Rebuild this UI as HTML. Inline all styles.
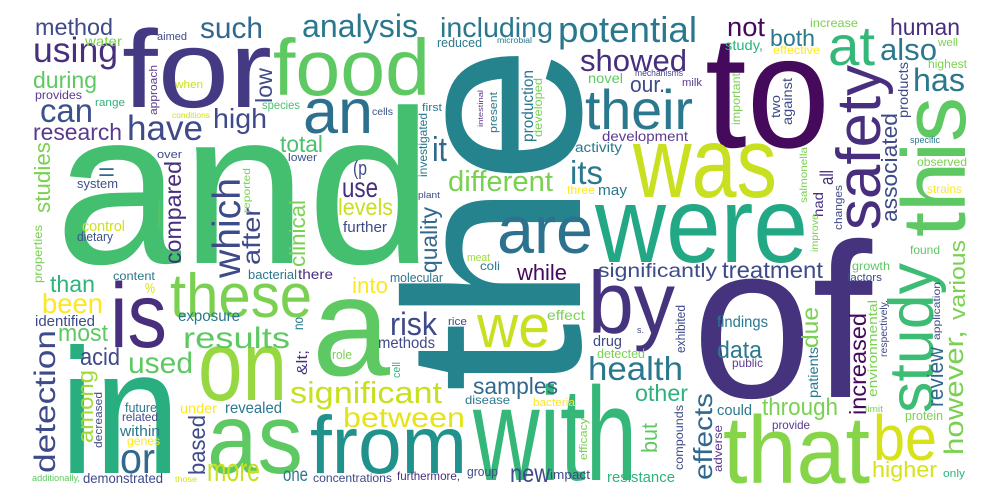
<!DOCTYPE html>
<html><head><meta charset="utf-8"><title>Word cloud</title>
<style>html,body{margin:0;padding:0;background:#fff;width:1000px;height:500px;overflow:hidden}svg text{font-family:"Liberation Sans",Arial,sans-serif}</style>
</head><body>
<svg id="cloud" width="1000" height="500" viewBox="0 0 1000 500" xmlns="http://www.w3.org/2000/svg">
<rect x="0" y="0" width="1000" height="500" fill="#fff"/>
</svg>
<script>
// [word, x, baselineY (or start y for vertical), fontSize, length, color, vertical]
const cloud = [
["the",580,392,250,347,"#25838e",1],
["and",55,263,219,378,"#44bf70",0],
["of",692,397,220,180,"#46337e",0],
["to",705,147,160,125,"#450a5c",0],
["for",122,107,110,150,"#443983",0],
["in",60,473,178,120,"#29af7f",0],
["a",312,375,141,78,"#5ec962",0],
["with",473,480,133,164,"#35b779",0],
["were",595,262,108,213,"#22a884",0],
["was",633,197,100,144,"#c8e020",0],
["is",110,347,92,57,"#472f7d",0],
["as",207,473,100,96,"#5ec962",0],
["on",198,400,100,89,"#95d840",0],
["from",310,473,82,157,"#21918c",0],
["that",723,483,96,147,"#86d549",0],
["food",273,95,80,157,"#5ec962",0],
["this",965,237,90,140,"#5ec962",1],
["study",933,413,63,150,"#3dbc74",1],
["safety",880,230,62,165,"#472f7d",1],
["by",588,333,88,87,"#46337e",0],
["are",497,253,68,96,"#2c728e",0],
["an",303,133,63,70,"#2d708e",0],
["these",170,317,62,142,"#7ad151",0],
["their",585,129,56,108,"#2a788e",0],
["at",828,65,56,47,"#35b779",0],
["we",477,347,60,73,"#c8e020",0],
["be",873,460,64,64,"#d8e219",0],
["potential",558,42,36,139,"#2a788e",0],
["showed",580,71,31,107,"#472f7d",0],
["including",440,37,28,113,"#2a788e",0],
["analysis",302,37,32,116,"#2a788e",0],
["such",200,38,30,63,"#31688e",0],
["method",35,35,23,78,"#3e4a89",0],
["using",33,62,35,85,"#472f7d",0],
["during",33,88,23,64,"#5ec962",0],
["can",40,122,33,53,"#3b528b",0],
["research",33,140,23,89,"#5b3a8e",0],
["have",127,140,35,76,"#3e4a89",0],
["high",213,128,28,54,"#3e4a89",0],
["low",272,103,23,35,"#3e4a89",1],
["water",85,46,14,37,"#7ad151",0],
["aimed",157,40,11,30,"#3e4a89",0],
["provides",35,99,12,47,"#5b3a8e",0],
["range",95,106,11,30,"#2eb37c",0],
["approach",157,115,11,50,"#5b3a8e",1],
["when",175,88,11,28,"#c8e020",0],
["species",262,109,12,38,"#4ac16d",0],
["conditions",172,118,8.5,38,"#d0e11c",0],
["cells",372,115,10,21,"#3b528b",0],
["total",280,152,23,43,"#4ac16d",0],
["it",432,161,34,15,"#31688e",0],
["over",157,158,11,25,"#3e4a89",0],
["lower",288,161,11,29,"#3b528b",0],
["=",98,180,24,17,"#31688e",0],
["system",77,188,13,41,"#3b528b",0],
["studies",50,213,22,71,"#7ad151",1],
["compared",181,264,23,103,"#472f7d",1],
["which",240,278,39,100,"#3e4a89",1],
["after",260,265,25,58,"#3e4a89",1],
["reported",250,213,10,45,"#7ad151",1],
["presence",162,230,7.5,30,"#5ec962",1],
["(p",353,175,20,14,"#3e4a89",0],
["use",342,197,28,36,"#472f7d",0],
["levels",338,215,23,55,"#c8e020",0],
["further",343,232,15,44,"#3e4a89",0],
["control",82,231,14.5,43,"#d0e11c",0],
["dietary",77,241,12.5,36,"#3b528b",0],
["properties",42,283,12,58,"#7ad151",1],
["clinical",305,267,22,67,"#7ad151",1],
["quality",437,273,23,66,"#31688e",1],
["investigated",427,177,12,64,"#2a788e",1],
["plant",418,198,9,22,"#3e4a89",0],
["first",422,111,11,20,"#2a788e",0],
["intestinal",483,127,7,37,"#5b3a8e",1],
["present",497,133,11,41,"#2a788e",1],
["production",533,142,16,72,"#2a788e",1],
["developed",542,137,12,59,"#7ad151",1],
["reduced",437,47,13,45,"#2a788e",0],
["microbial",497,43,8,35,"#2a788e",0],
["our.",630,92,22,35,"#3e4a89",0],
["mechanisms",635,76,9,48,"#3e4a89",0],
["milk",682,86,11,20,"#5b3a8e",0],
["novel",588,83,14,35,"#5ec962",0],
["development",602,141,14,86,"#5b3a8e",0],
["activity",575,152,13.5,47,"#2a788e",0],
["different",448,191,29,105,"#7ad151",0],
["its",570,184,33,33,"#2a788e",0],
["three",567,194,12,28,"#fde725",0],
["may",598,195,15,29,"#2a788e",0],
["important",740,125,12,52,"#7ad151",1],
["study,",725,50,14,38,"#2eb37c",0],
["not",727,36,27,38,"#46085c",0],
["both",770,46,23,45,"#2a788e",0],
["increase",810,27,12,48,"#7ad151",0],
["effective",773,54,12,47,"#fde725",0],
["two",780,118,13,23,"#3e4a89",1],
["against",792,125,14,47,"#3e4a89",1],
["human",890,35,23,70,"#472f7d",0],
["also",880,60,31,57,"#2a788e",0],
["well",938,46,11,20,"#7ad151",0],
["highest",928,68,11.5,39,"#7ad151",0],
["has",913,91,32,52,"#2a788e",0],
["products",908,118,14,56,"#3e4a89",1],
["specific",910,143,9,30,"#2a788e",0],
["observed",917,166,12,50,"#7ad151",0],
["strains",927,193,12,35,"#fde725",0],
["associated",897,222,22,109,"#3e4a89",1],
["all",833,185,18,15,"#472f7d",1],
["had",823,217,14,25,"#472f7d",1],
["salmonella",807,203,10,56,"#7ad151",1],
["changes",842,230,11,45,"#3e4a89",1],
["improve",818,252,10,38,"#7ad151",1],
["found",910,254,12,30,"#5ec962",0],
["while",517,280,22,50,"#46085c",0],
["significantly",598,277,19.5,119,"#3e4a89",0],
["treatment",722,278,23,101,"#3e4a89",0],
["growth",852,270,12,38,"#5ec962",0],
["factors",847,281,11,35,"#3e4a89",0],
["various",965,320,22,80,"#7ad151",1],
["however,",963,455,27,125,"#7ad151",1],
["review",943,407,22,60,"#31688e",1],
["application",940,340,10,58,"#3e4a89",1],
["respectively.",887,357,10,57,"#3e4a89",1],
["environmental",877,397,13,97,"#7ad151",1],
["increased",866,415,23,102,"#46085c",1],
["limit",865,412,9,18,"#7ad151",0],
["protein",905,420,13,38,"#7ad151",0],
["higher",872,477,22,65,"#d8e219",0],
["only",943,477,11,22,"#2eb37c",0],
["effect",547,320,14,38,"#7ad151",0],
["drug",593,346,15,29,"#3e4a89",0],
["s.",637,333,9,7,"#3e4a89",0],
["exhibited",685,353,13,48,"#3e4a89",1],
["findings",717,327,16,51,"#2a788e",0],
["data",717,358,24,45,"#2a788e",0],
["public",732,367,12,31,"#5b3a8e",0],
["due",818,348,23,41,"#7ad151",1],
["patients",818,398,14,51,"#2a788e",1],
["detected",597,358,13,48,"#7ad151",0],
["health",588,380,33,95,"#2a788e",0],
["other",635,401,23,53,"#2eb37c",0],
["effects",712,480,26,87,"#31688e",1],
["compounds",683,470,12,65,"#3e4a89",1],
["but",657,453,22,30,"#5ec962",1],
["could",717,415,15,35,"#2a788e",0],
["through",762,415,24,76,"#7ad151",0],
["provide",772,429,12,38,"#5b3a8e",0],
["adverse",722,472,12,47,"#5b3a8e",1],
["efficacy",587,460,11,42,"#7ad151",1],
["resistance",607,482,15,68,"#2eb37c",0],
["new",510,482,25,40,"#3e4a89",0],
["impact",550,479,13,40,"#3e4a89",0],
["samples",473,394,23,85,"#31688e",0],
["disease",465,404,12,45,"#2a788e",0],
["bacteria",533,406,11,42,"#fde725",0],
["group",467,476,13,31,"#3e4a89",0],
["furthermore,",397,480,12,63,"#472f7d",0],
["concentrations",313,482,12,79,"#3e4a89",0],
["between",343,427,28,122,"#e5e419",0],
["significant",290,403,31,152,"#c8e020",0],
["than",50,292,23,45,"#2eb37c",0],
["been",42,313,28,61,"#fde725",0],
["content",113,280,12,42,"#2a788e",0],
["%",145,293,15,10,"#d8e219",0],
["identified",35,326,15,60,"#3e4a89",0],
["most",58,341,24,50,"#5ec962",0],
["acid",80,365,24,40,"#3e4a89",0],
["detection",55,473,30,143,"#3e4a89",1],
["among",93,443,22,73,"#a0da39",1],
["future",125,412,13,32,"#2a788e",0],
["related",122,421,12,36,"#3e4a89",0],
["within",120,436,15,40,"#2a788e",0],
["genes",127,445,12,33,"#fde725",0],
["decreased",102,448,11,56,"#3e4a89",1],
["or",120,473,43,35,"#31688e",0],
["based",205,475,23,60,"#3e4a89",1],
["more",207,481,32,53,"#c8e020",0],
["under",180,413,14,37,"#fde725",0],
["revealed",225,413,16,57,"#2a788e",0],
["results",183,348,30,107,"#5ec962",0],
["exposure",178,321,16,62,"#2a788e",0],
["used",128,373,30,65,"#5ec962",0],
["bacterial",248,279,13,49,"#2a788e",0],
["there",298,279,14,35,"#472f7d",0],
["into",352,293,22,36,"#fde725",0],
["meat",467,261,11,23,"#a0da39",0],
["coli",480,270,12,20,"#2a788e",0],
["molecular",390,282,13,53,"#2a788e",0],
["no",303,330,14,13,"#2a788e",1],
["&lt;",307,375,15,25,"#472f7d",1],
["risk",390,335,32,47,"#3e4a89",0],
["rice",448,325,11,19,"#3e4a89",0],
["methods",378,348,16,57,"#3e4a89",0],
["role",332,359,13,20,"#7ad151",0],
["cell",400,378,11,16,"#2eb37c",1],
["one",283,481,19,25,"#2a788e",0],
["demonstrated",83,483,14,80,"#3e4a89",0],
["additionally,",32,481,9,48,"#5ec962",0],
["those",175,482,8,22,"#d8e219",0]
];
const svg = document.getElementById('cloud');
const NS = 'http://www.w3.org/2000/svg';
cloud.forEach(function(w){
  const t = document.createElementNS(NS,'text');
  
  
  t.setAttribute('font-size', w[3]);
  t.setAttribute('fill', w[5]);
  t.setAttribute('textLength', w[4]);
  t.setAttribute('lengthAdjust', 'spacingAndGlyphs');
  if (w[6]) {
    t.setAttribute('transform', 'translate(' + w[1] + ',' + w[2] + ') rotate(-90)');
    t.setAttribute('x', 0); t.setAttribute('y', 0);
  } else {
    t.setAttribute('x', w[1]); t.setAttribute('y', w[2]);
  }
  t.textContent = w[0];
  svg.appendChild(t);
});
</script>
</body></html>
